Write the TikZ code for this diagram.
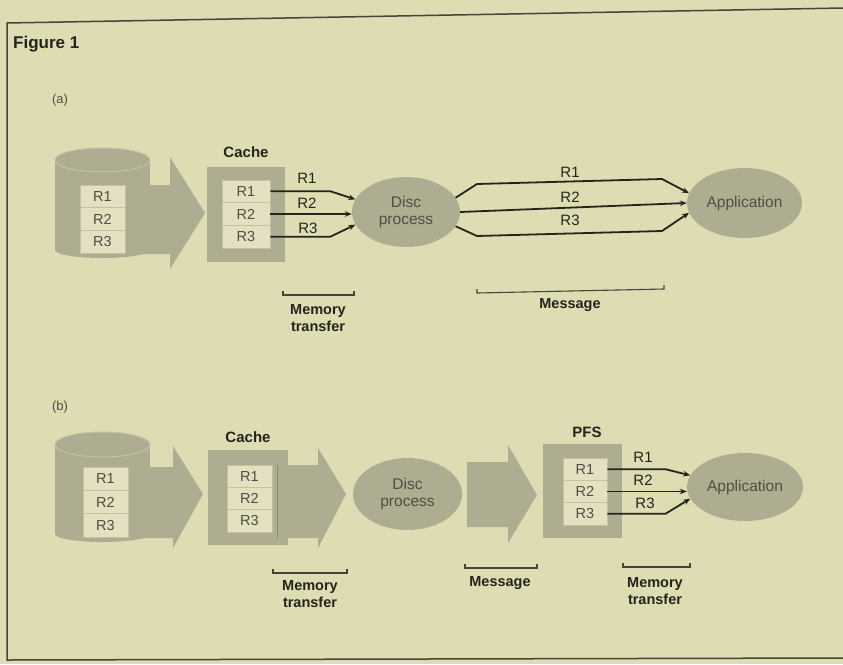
\documentclass[tikz,border=0pt]{standalone}
\usepackage{fontspec}
\setmainfont{Liberation Sans}
\usetikzlibrary{arrows.meta,shapes.geometric}
\definecolor{bg}{HTML}{DDDCB2}
\definecolor{tone}{HTML}{AFAD91}
\definecolor{cellc}{HTML}{E3E1C1}
\definecolor{celll}{HTML}{C4C2A3}
\definecolor{ink}{HTML}{24241C}
\definecolor{grayink}{HTML}{4F4E44}
\definecolor{edge}{HTML}{8A886E}
\begin{document}
\begin{tikzpicture}[x=1pt,y=-1pt,
  cellbox/.style={draw=celll, line width=0.8pt, fill=cellc, inner sep=0pt,
    font=\fontsize{14.5}{14.5}\selectfont, text=grayink},
  boxfill/.style={fill=tone, inner sep=0pt},
  lbl/.style={font=\fontsize{15}{15}\selectfont, text=ink, inner sep=0pt},
  hdr/.style={font=\bfseries\fontsize{15}{15}\selectfont, text=ink, inner sep=0pt},
  sub/.style={font=\bfseries\fontsize{14.5}{17}\selectfont, text=ink, inner sep=0pt, align=center},
  ell/.style={ellipse, fill=tone, inner sep=0pt, font=\fontsize{15.5}{17.5}\selectfont,
    text=grayink, align=center},
  conn/.style={draw=ink, line width=1.8pt, -{Stealth[length=7pt,width=5.5pt]}},
  brk/.style={draw=ink!85, line width=1.1pt},
  frame/.style={draw=ink!85, line width=1.5pt}]
\useasboundingbox (0,0) rectangle (843,664);
\fill[bg] (0,0) rectangle (843,664);
% frame
\draw[frame] (843,8) -- (7,23) -- (7,660) -- (843,658);
\node[font=\bfseries\fontsize{17}{17}\selectfont, text=ink, anchor=west, inner sep=0pt] (fig) at (13,44) {Figure 1};

% ================= (a) =================
\node[font=\fontsize{13}{13}\selectfont, text=grayink, inner sep=0pt] (la) at (60,100) {(a)};
% disc cylinder
\fill[tone] (55,160) rectangle (150,250);
\fill[tone] (102.5,250) ellipse (47.5pt and 8pt);
\fill[tone] (102.5,160) ellipse (47.5pt and 12pt);
\draw[celll, line width=1pt] (102.5,160) ellipse (47.5pt and 12pt);
\node[cellbox, minimum width=45pt, minimum height=22.7pt] (ya1) at (102.5,196.3) {R1};
\node[cellbox, minimum width=45pt, minimum height=22.7pt] (ya2) at (102.5,219) {R2};
\node[cellbox, minimum width=45pt, minimum height=22.7pt] (ya3) at (102.5,241.7) {R3};
% big arrow
\fill[tone] (140,185) -- (170,185) -- (170,157) -- (205,213) -- (170,269) -- (170,254) -- (140,254) -- cycle;
% cache
\node[boxfill, minimum width=78pt, minimum height=95pt] (cacheA) at (246,214.5) {};
\node[hdr] (cacheAl) at (246,152) {Cache};
\node[cellbox, minimum width=48pt, minimum height=22.7pt] (ca1) at (246,191.3) {R1};
\node[cellbox, minimum width=48pt, minimum height=22.7pt] (ca2) at (246,214) {R2};
\node[cellbox, minimum width=48pt, minimum height=22.7pt] (ca3) at (246,236.7) {R3};
% disc process and application
\node[ell, minimum width=108pt, minimum height=70pt] (dpA) at (406,212) {Disc\\process};
\node[ell, minimum width=115pt, minimum height=70pt] (apA) at (744.5,203) {Application};
% connectors cache -> disc process
\draw[conn] (ca1.east) -- ++(60,0) -- (dpA.166);
\draw[conn] (ca2.east) -- (ca2.east -| dpA.west);
\draw[conn] (ca3.east) -- ++(60,0) -- (dpA.194);
\node[lbl] (ra1) at (307,178) {R1};
\node[lbl] (ra2) at (307,203) {R2};
\node[lbl] (ra3) at (308,228) {R3};
% connectors disc process -> application
\draw[conn] (dpA.16) -- (477,184) -- (662,179) -- (apA.170);
\draw[conn] (dpA.east) -- (apA.west);
\draw[conn] (dpA.-16) -- (477,236) -- (662,231) -- (apA.190);
\node[lbl] (rb1) at (570,172) {R1};
\node[lbl] (rb2) at (570,197) {R2};
\node[lbl] (rb3) at (570,220) {R3};
% brackets
\draw[brk] (283,291) -- (283,295) -- (354,295) -- (354,291);
\node[sub] (mta) at (318,318) {Memory\\transfer};
\draw[brk] (477,289) -- (477,293) -- (664,289) -- (664,285);
\node[sub] (msa) at (570,305) {Message};

% ================= (b) =================
\node[font=\fontsize{13}{13}\selectfont, text=grayink, inner sep=0pt] (lb) at (60,407) {(b)};
% disc cylinder
\fill[tone] (55,444.5) rectangle (150,534);
\fill[tone] (102.5,534) ellipse (47.5pt and 8pt);
\fill[tone] (102.5,444.5) ellipse (47.5pt and 12.5pt);
\draw[celll, line width=1pt] (102.5,444.5) ellipse (47.5pt and 12.5pt);
\node[cellbox, minimum width=45pt, minimum height=23.3pt] (yb1) at (105.5,478.7) {R1};
\node[cellbox, minimum width=45pt, minimum height=23.3pt] (yb2) at (105.5,502) {R2};
\node[cellbox, minimum width=45pt, minimum height=23.3pt] (yb3) at (105.5,525.3) {R3};
% big arrow 1
\fill[tone] (140,467) -- (173,467) -- (173,446) -- (203,494) -- (173,548) -- (173,538) -- (140,538) -- cycle;
% cache
\node[boxfill, minimum width=80pt, minimum height=95pt] (cacheB) at (248,497.5) {};
\node[hdr] (cacheBl) at (248,437) {Cache};
\node[cellbox, minimum width=45pt, minimum height=22.3pt] (cb1) at (249.5,476.2) {R1};
\node[cellbox, minimum width=45pt, minimum height=22.3pt] (cb2) at (249.5,498.5) {R2};
\node[cellbox, minimum width=45pt, minimum height=22.3pt] (cb3) at (249.5,520.8) {R3};
% big arrow 2
\fill[tone] (277,465) -- (318,465) -- (318,448) -- (346,494) -- (318,548) -- (318,538) -- (277,538) -- cycle;
\draw[edge, line width=0.9pt] (277,465) -- (277,538);
% disc process
\node[ell, minimum width=109pt, minimum height=72pt] (dpB) at (407.5,494) {Disc\\process};
% big arrow 3
\fill[tone] (467,462) -- (508,462) -- (508,445) -- (537,495) -- (508,543) -- (508,527) -- (467,527) -- cycle;
% PFS
\node[boxfill, minimum width=79pt, minimum height=94pt] (pfs) at (582.5,491) {};
\node[hdr] (pfsl) at (587,432) {PFS};
\node[cellbox, minimum width=44pt, minimum height=22.3pt] (pf1) at (585,469.2) {R1};
\node[cellbox, minimum width=44pt, minimum height=22.3pt] (pf2) at (585,491.5) {R2};
\node[cellbox, minimum width=44pt, minimum height=22.3pt] (pf3) at (585,513.8) {R3};
% application
\node[ell, minimum width=116pt, minimum height=68pt] (apB) at (745,487) {Application};
% connectors PFS -> application
\draw[conn] (pf1.east) -- ++(58,0) -- (apB.168);
\draw[conn] (pf2.east) -- (pf2.east -| apB.west);
\draw[conn] (pf3.east) -- ++(58,0) -- (apB.192);
\node[lbl] (rc1) at (643,457) {R1};
\node[lbl] (rc2) at (643,480) {R2};
\node[lbl] (rc3) at (645,503) {R3};
% brackets
\draw[brk] (273,569) -- (273,573) -- (347,573) -- (347,569);
\node[sub] (mtb1) at (310,594) {Memory\\transfer};
\draw[brk] (465,564) -- (465,568) -- (537,568) -- (537,564);
\node[sub] (msb) at (500,583) {Message};
\draw[brk] (623,563) -- (623,567) -- (690,567) -- (690,563);
\node[sub] (mtb2) at (655,591) {Memory\\transfer};
\end{tikzpicture}
\end{document}
